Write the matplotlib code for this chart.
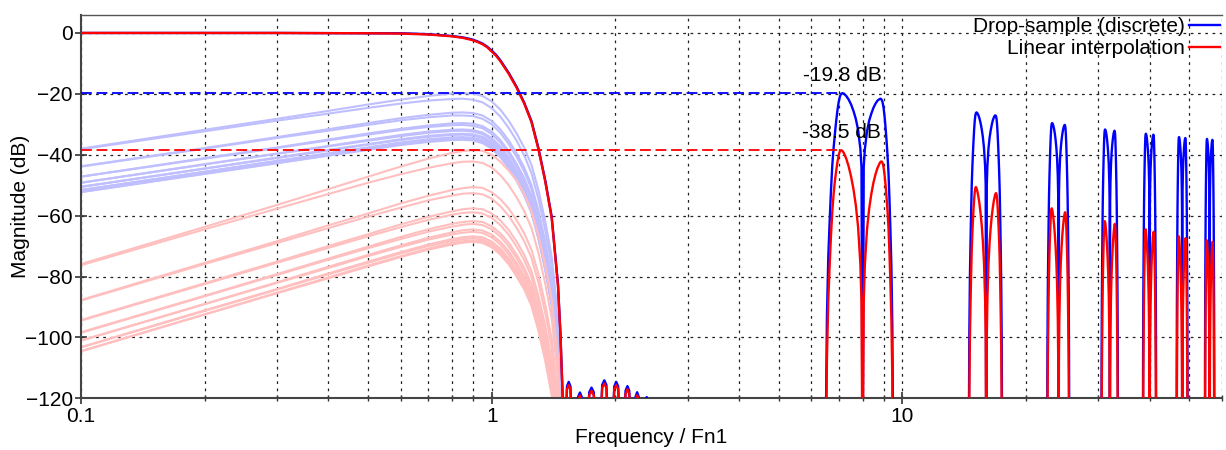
import matplotlib
matplotlib.use("Agg")
import matplotlib.pyplot as plt
from matplotlib.lines import Line2D
from matplotlib.ticker import FixedLocator, FuncFormatter, NullFormatter

plt.rcParams['font.family'] = ['Liberation Sans', 'DejaVu Sans']

# ---------------------------------------------------------------------------
# Baseband response (frequency normalised to Fn1), dB
base_freq = [0.1, 0.3, 0.5, 0.6, 0.7, 0.8, 0.85, 0.875, 0.9, 0.925, 0.95,
             0.975, 1.0, 1.025, 1.05, 1.1, 1.15, 1.2, 1.25, 1.3, 1.35, 1.4,
             1.45, 1.47, 1.49, 1.5]
base_drop_db = [0.0, 0.0, -0.1, -0.1, -0.4, -1.0, -1.45, -1.8, -2.2, -2.8,
                -3.5, -4.5, -5.8, -7.2, -9.0, -13.1, -17.7, -22.9, -29.0, -37.9,
                -48.4, -60.4, -82.5, -98.5, -120.5, -140.0]
base_linear_db = [0.0, 0.0, -0.1, -0.2, -0.5, -1.1, -1.6, -2.0, -2.4, -3.0,
                  -3.7, -4.7, -6.1, -7.5, -9.3, -13.4, -18.0, -23.2, -29.3,
                  -38.3, -48.8, -60.9, -83.0, -99.0, -121.0, -141.0]

# Stop-band ripple lobes just above the transition band
stopband_freq = [1.512, 1.525, 1.54, 1.555, 1.568, 1.59,
                 1.608, 1.623, 1.64, 1.657, 1.672, 1.69,
                 1.707, 1.728, 1.75, 1.772, 1.793, 1.815,
                 1.836, 1.858, 1.88, 1.902, 1.924, 1.945,
                 1.966, 1.988, 2.01, 2.032, 2.054, 2.075,
                 2.097, 2.118, 2.14, 2.162, 2.183, 2.205,
                 2.222, 2.24, 2.26, 2.28, 2.298, 2.33,
                 2.36, 2.372, 2.385, 2.398, 2.41, 2.45]
stopband_drop_db = [-132, -116.1, -114.6, -116.1, -132, -150,
                    -132, -119.6, -118.1, -119.6, -132, -150,
                    -132, -118.0, -116.5, -118.0, -132, -150,
                    -132, -115.6, -114.1, -115.6, -132, -150,
                    -132, -116.1, -114.6, -116.1, -132, -150,
                    -132, -117.5, -116.0, -117.5, -132, -150,
                    -132, -119.5, -118.0, -119.5, -132, -150,
                    -132, -121.0, -119.6, -121.0, -132, -150]
stopband_linear_db = [-133, -117.1, -115.6, -117.1, -133, -151,
                      -133, -120.6, -119.1, -120.6, -133, -151,
                      -133, -119.0, -117.5, -119.0, -133, -151,
                      -133, -116.6, -115.1, -116.6, -133, -151,
                      -133, -117.1, -115.6, -117.1, -133, -151,
                      -133, -118.5, -117.0, -118.5, -133, -151,
                      -133, -120.5, -119.0, -120.5, -133, -151,
                      -133, -122.0, -120.6, -122.0, -133, -151]

# Image components: level at distance d below / above each multiple of the
# sample rate.  The same curves, read at d, are the aliases folded to baseband.
offset_freq = [0.05, 0.1, 0.2, 0.3, 0.4, 0.5, 0.6, 0.7, 0.8, 0.85, 0.9, 0.95,
               1.0, 1.05, 1.1, 1.15, 1.2, 1.25, 1.3, 1.35, 1.4, 1.45, 1.5]
image_centres = [8, 16, 24, 32, 40, 48, 56]
null_level_db = -150.0

drop_lower_db = [
    [-44.0, -38.0, -31.8, -28.2, -25.6, -23.5, -21.9, -20.7, -19.9, -19.8, -19.9, -20.7, -22.5, -25.2, -28.8, -33.0, -37.7, -43.4, -51.7, -61.9, -73.5, -93.1, -137.7],
    [-49.9, -43.8, -37.8, -34.2, -31.6, -29.6, -28.0, -26.9, -26.2, -26.1, -26.3, -27.1, -28.9, -31.7, -35.3, -39.5, -44.2, -50.0, -58.4, -68.5, -80.2, -99.9, -144.6],
    [-53.2, -47.2, -41.1, -37.6, -35.0, -33.0, -31.5, -30.4, -29.7, -29.6, -29.8, -30.6, -32.4, -35.2, -38.8, -43.0, -47.7, -53.5, -62.0, -72.1, -83.8, -103.5, -148.1],
    [-55.2, -49.2, -43.1, -39.6, -37.1, -35.1, -33.5, -32.4, -31.8, -31.7, -31.9, -32.7, -34.5, -37.3, -40.9, -45.1, -49.8, -55.6, -64.1, -74.2, -85.9, -105.6, -150.3],
    [-56.6, -50.5, -44.5, -40.9, -38.4, -36.5, -34.9, -33.8, -33.2, -33.1, -33.3, -34.1, -35.9, -38.7, -42.3, -46.5, -51.2, -57.0, -65.5, -75.6, -87.3, -107.0, -151.7],
    [-57.6, -51.6, -45.6, -42.0, -39.5, -37.6, -36.0, -34.9, -34.3, -34.2, -34.4, -35.2, -37.0, -39.8, -43.4, -47.6, -52.3, -58.2, -66.6, -76.8, -88.5, -108.1, -152.8],
    [-58.3, -52.2, -46.2, -42.7, -40.2, -38.2, -36.7, -35.6, -34.9, -34.8, -35.0, -35.9, -37.7, -40.5, -44.1, -48.3, -53.0, -58.8, -67.3, -77.4, -89.1, -108.8, -153.5],
]
drop_upper_db = [
    [-44.1, -38.2, -32.3, -28.8, -26.5, -24.6, -23.2, -22.2, -21.7, -21.6, -21.9, -22.8, -24.7, -27.5, -31.2, -35.4, -40.2, -46.1, -54.6, -64.8, -76.5, -96.3, -141.0],
    [-49.9, -43.9, -38.0, -34.5, -32.1, -30.2, -28.7, -27.7, -27.1, -27.1, -27.3, -28.2, -30.0, -32.8, -36.5, -40.7, -45.5, -51.3, -59.8, -70.0, -81.7, -101.4, -146.2],
    [-53.2, -47.2, -41.3, -37.8, -35.3, -33.4, -31.9, -30.9, -30.3, -30.2, -30.5, -31.3, -33.2, -36.0, -39.6, -43.8, -48.6, -54.4, -62.9, -73.1, -84.8, -104.5, -149.2],
    [-55.2, -49.2, -43.2, -39.7, -37.3, -35.4, -33.9, -32.8, -32.2, -32.1, -32.4, -33.2, -35.1, -37.9, -41.5, -45.7, -50.5, -56.3, -64.8, -75.0, -86.7, -106.4, -151.1],
    [-56.6, -50.6, -44.6, -41.1, -38.6, -36.7, -35.2, -34.1, -33.5, -33.4, -33.7, -34.5, -36.4, -39.2, -42.8, -47.0, -51.7, -57.6, -66.0, -76.2, -87.9, -107.6, -152.4],
    [-57.7, -51.6, -45.6, -42.1, -39.7, -37.7, -36.2, -35.2, -34.6, -34.5, -34.7, -35.5, -37.4, -40.2, -43.8, -48.0, -52.8, -58.6, -67.1, -77.3, -89.0, -108.7, -153.4],
    [-58.3, -52.3, -46.3, -42.8, -40.3, -38.4, -36.8, -35.8, -35.2, -35.1, -35.3, -36.2, -38.0, -40.8, -44.4, -48.6, -53.4, -59.2, -67.7, -77.9, -89.6, -109.3, -154.0],
]
linear_lower_db = [
    [-88.1, -75.9, -63.7, -56.5, -51.3, -47.2, -43.9, -41.3, -39.4, -38.8, -38.5, -38.7, -40.0, -42.3, -45.2, -48.5, -52.9, -58.6, -66.6, -76.3, -87.6, -106.9, -151.2],
    [-99.7, -87.7, -75.5, -68.4, -63.2, -59.3, -56.0, -53.5, -51.6, -51.0, -50.6, -50.9, -52.3, -54.6, -57.7, -61.5, -65.8, -71.2, -79.3, -89.1, -100.4, -119.7, -164.1],
    [-106.4, -94.3, -82.2, -75.1, -70.0, -66.1, -62.9, -60.4, -58.6, -57.9, -57.6, -57.9, -59.3, -61.6, -64.7, -68.5, -72.9, -78.3, -86.4, -96.2, -107.5, -126.9, -171.3],
    [-110.4, -98.3, -86.3, -79.2, -74.1, -70.2, -67.0, -64.5, -62.7, -62.1, -61.8, -62.1, -63.5, -65.8, -68.9, -72.8, -77.1, -82.5, -90.6, -100.4, -111.8, -131.2, -175.5],
    [-113.1, -101.0, -89.0, -81.9, -76.8, -72.9, -69.8, -67.3, -65.5, -64.8, -64.5, -64.9, -66.2, -68.6, -71.7, -75.6, -79.9, -85.4, -93.5, -103.3, -114.6, -134.0, -178.4],
    [-115.3, -103.2, -91.1, -84.1, -79.0, -75.1, -72.0, -69.5, -67.7, -67.1, -66.8, -67.1, -68.5, -70.8, -74.0, -77.8, -82.1, -87.6, -95.7, -105.5, -116.9, -136.3, -180.7],
    [-116.5, -104.5, -92.4, -85.3, -80.3, -76.4, -73.3, -70.8, -69.0, -68.4, -68.1, -68.4, -69.8, -72.2, -75.3, -79.1, -83.5, -89.0, -97.1, -106.9, -118.2, -137.6, -182.0],
]
linear_upper_db = [
    [-88.3, -76.3, -64.5, -57.7, -52.9, -49.2, -46.4, -44.3, -42.8, -42.3, -42.2, -42.7, -44.2, -46.7, -50.0, -54.0, -58.5, -64.1, -72.3, -82.3, -93.8, -113.3, -157.8],
    [-99.9, -87.9, -75.9, -69.0, -64.1, -60.3, -57.4, -55.0, -53.4, -52.8, -52.6, -53.0, -54.4, -56.9, -60.1, -64.0, -68.4, -73.9, -82.1, -92.0, -103.4, -122.9, -167.3],
    [-106.5, -94.5, -82.5, -75.5, -70.6, -66.8, -63.8, -61.4, -59.7, -59.1, -58.9, -59.3, -60.7, -63.1, -66.3, -70.2, -74.6, -80.1, -88.3, -98.2, -109.6, -129.0, -173.4],
    [-110.5, -98.5, -86.5, -79.5, -74.5, -70.7, -67.7, -65.3, -63.6, -63.0, -62.7, -63.1, -64.5, -66.9, -70.1, -74.0, -78.4, -83.9, -92.0, -101.9, -113.3, -132.7, -177.2],
    [-113.1, -101.1, -89.1, -82.1, -77.2, -73.3, -70.3, -67.9, -66.2, -65.6, -65.3, -65.7, -67.1, -69.5, -72.7, -76.6, -80.9, -86.4, -94.6, -104.4, -115.8, -135.2, -179.7],
    [-115.3, -103.3, -91.3, -84.3, -79.3, -75.5, -72.4, -70.0, -68.3, -67.7, -67.4, -67.8, -69.2, -71.6, -74.8, -78.8, -83.0, -88.5, -96.7, -106.5, -117.9, -137.3, -181.7],
    [-116.6, -104.6, -92.5, -85.5, -80.6, -76.7, -73.6, -71.2, -69.5, -68.9, -68.6, -69.0, -70.4, -72.8, -76.0, -80.0, -84.2, -89.7, -97.9, -107.7, -119.1, -138.5, -182.9],
]

# Worst-case image peaks, marked with a dashed reference line
peak_freqs = [7.15, 7.1]
peak_levels = [-19.8, -38.5]

series_labels = ["Drop-sample (discrete)", "Linear interpolation"]
x_major_ticks = [0.1, 1, 10]
y_ticks = [0, -20, -40, -60, -80, -100, -120]

# ---------------------------------------------------------------------------
BLUE, RED = "#0000ff", "#ff0000"
PALE_BLUE, PALE_RED = "#bfbfff", "#ffbfbf"
FS = 15

fig = plt.figure(figsize=(12.26, 4.5), dpi=100)
ax = fig.add_axes([81 / 1226, 51.7 / 450, 1141 / 1226, 383.6 / 450])


def image_trace(centre, lower, upper):
    xs = [centre - d for d in reversed(offset_freq)] + [centre] + \
         [centre + d for d in offset_freq]
    ys = list(reversed(lower)) + [null_level_db] + list(upper)
    return xs, ys


# aliases folded into the baseband
for lo, hi in zip(drop_lower_db, drop_upper_db):
    ax.plot(offset_freq, lo, color=PALE_BLUE, lw=1.5, zorder=2)
    ax.plot(offset_freq, hi, color=PALE_BLUE, lw=1.5, zorder=2)
for lo, hi in zip(linear_lower_db, linear_upper_db):
    ax.plot(offset_freq, lo, color=PALE_RED, lw=1.5, zorder=2.1)
    ax.plot(offset_freq, hi, color=PALE_RED, lw=1.5, zorder=2.1)

# drop-sample output
ax.plot(base_freq + stopband_freq, base_drop_db + stopband_drop_db,
        color=BLUE, lw=1.7, zorder=3)
for c, lo, hi in zip(image_centres, drop_lower_db, drop_upper_db):
    xs, ys = image_trace(c, lo, hi)
    ax.plot(xs, ys, color=BLUE, lw=1.7, zorder=3)

# linear-interpolation output
ax.plot(base_freq + stopband_freq, base_linear_db + stopband_linear_db,
        color=RED, lw=1.7, zorder=3.1)
for c, lo, hi in zip(image_centres, linear_lower_db, linear_upper_db):
    xs, ys = image_trace(c, lo, hi)
    ax.plot(xs, ys, color=RED, lw=1.7, zorder=3.1)

# reference lines at the worst image level, with value labels
for f, lvl, col in zip(peak_freqs, peak_levels, [BLUE, RED]):
    ax.plot([x_major_ticks[0], f], [lvl, lvl], color=col, lw=1.3,
            dashes=(6, 2.6), zorder=3.2)
    ax.annotate(f"{lvl:.1f} dB", xy=(f, lvl), xytext=(0, 6),
                textcoords="offset points", ha="center", va="bottom",
                fontsize=FS, zorder=4)

ax.set_xscale("log")
ax.set_xlim(0.1, 60)
ax.set_ylim(-120, 6)

ax.xaxis.set_major_locator(FixedLocator(x_major_ticks))
ax.xaxis.set_major_formatter(FuncFormatter(lambda v, p: f"{v:g}"))
ax.xaxis.set_minor_formatter(NullFormatter())
ax.yaxis.set_major_locator(FixedLocator(y_ticks))
ax.yaxis.set_major_formatter(
    FuncFormatter(lambda v, p: f"{v:g}".replace("-", "\u2212")))

grid_kw = dict(color="#222222", lw=0.9, dashes=(2.2, 3.6))
ax.grid(True, which="major", axis="both", **grid_kw)
ax.grid(True, which="minor", axis="x", **grid_kw)
ax.set_axisbelow(True)

ax.tick_params(axis="both", which="major", direction="inout", length=8,
               width=1.2, color="#333333", labelsize=FS, pad=2)
ax.tick_params(axis="x", which="minor", direction="inout", length=5,
               width=1.0, color="#333333")

for side in ("left", "bottom"):
    ax.spines[side].set_color("#444444")
    ax.spines[side].set_linewidth(1.5)
ax.spines["top"].set_color("#555555")
ax.spines["top"].set_linewidth(1.0)
ax.spines["right"].set_visible(False)

ax.set_xlabel("Frequency / Fn1", fontsize=FS, labelpad=2)
ax.set_ylabel("Magnitude (dB)", fontsize=FS, labelpad=-3.5)

handles = [Line2D([], [], color=BLUE, lw=1.7), Line2D([], [], color=RED, lw=1.7)]
ax.legend(handles, series_labels, loc="upper right", bbox_to_anchor=(1.0, 1.0),
          frameon=False, markerfirst=False, fontsize=FS, borderaxespad=0.0,
          borderpad=0.12, handlelength=1.45, handletextpad=0.2,
          labelspacing=0.15)

fig.savefig("out.png", dpi=100)
